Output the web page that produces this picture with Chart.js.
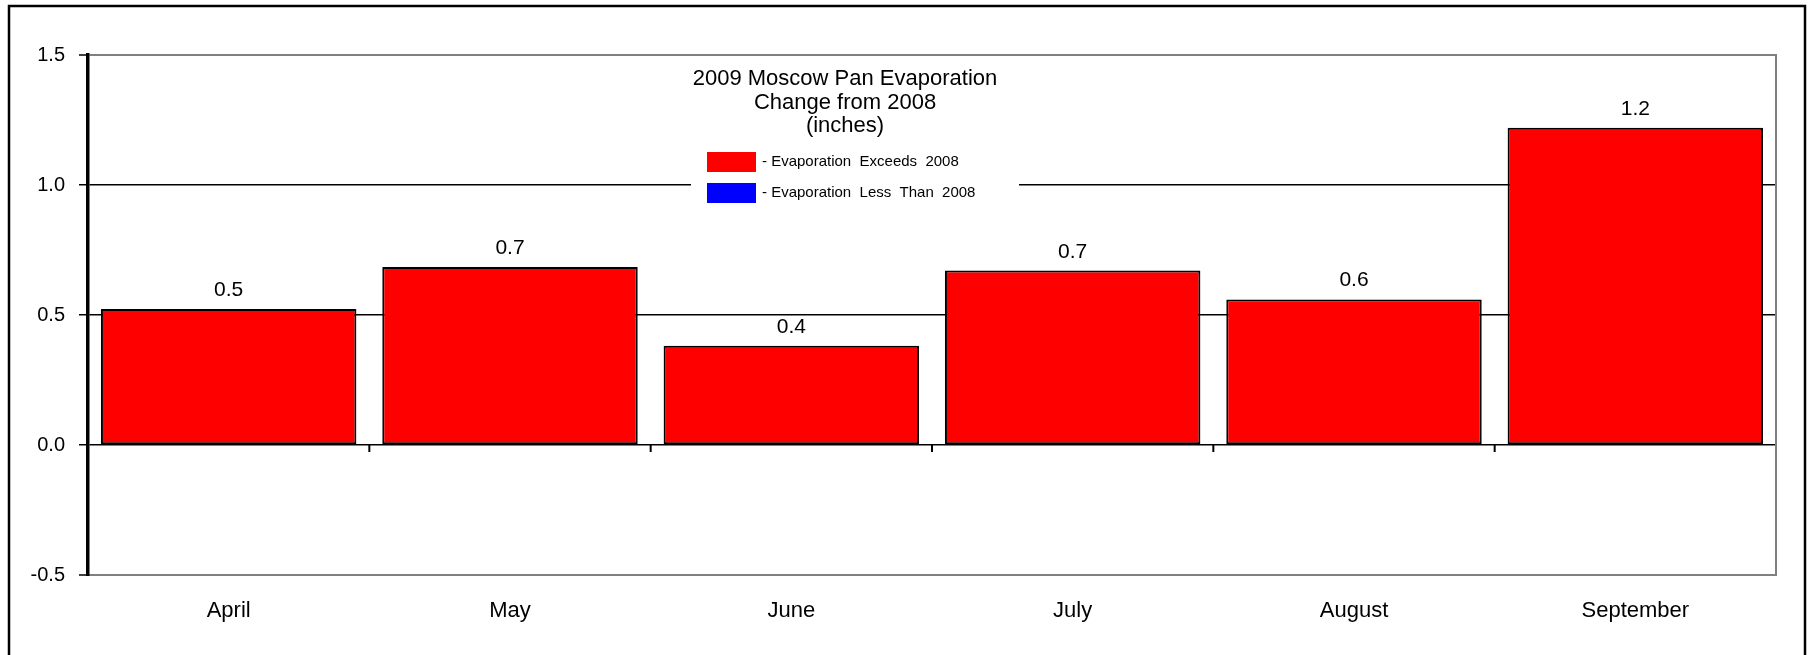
<!DOCTYPE html>
<html>
<head>
<meta charset="utf-8">
<title>2009 Moscow Pan Evaporation</title>
<script src="https://cdn.jsdelivr.net/npm/chart.js@4"></script>
<style>
    body { margin: 0; background: #fff; }
    #evapChart { display: block; }
</style>
</head>
<body>
<canvas id="evapChart" width="1813" height="655"></canvas>
<script>
// Data
var months = ['April', 'May', 'June', 'July', 'August', 'September'];
var change = [0.523, 0.685, 0.382, 0.671, 0.56, 1.22];
var yTicks = [-0.5, 0.0, 0.5, 1.0, 1.5];
var titleLines = ['2009 Moscow Pan Evaporation', 'Change from 2008', '(inches)'];
var legendLabels = ['- Evaporation  Exceeds  2008', '- Evaporation  Less  Than  2008'];
var legendColors = ['#ff0000', '#0000ff'];

var FONT = '"Liberation Sans", Arial, sans-serif';
var GRAY = '#808080';

// red when evaporation went up, blue when it went down
var barColors = change.map(function (v) { return v >= 0 ? legendColors[0] : legendColors[1]; });

// Frame, zero line ticks, value labels, title and legend
var decor = {
    id: 'decor',
    afterDraw: function (chart) {
        var c = chart.ctx;
        var area = chart.chartArea;
        var xs = chart.scales.x;
        var ys = chart.scales.y;
        var y0 = ys.getPixelForValue(0);
        c.save();

        // right border of the plot
        c.strokeStyle = GRAY;
        c.lineWidth = 2;
        c.beginPath();
        c.moveTo(area.right, area.top - 1);
        c.lineTo(area.right, area.bottom + 1);
        c.stroke();

        // category tick marks on the zero line
        c.strokeStyle = '#000';
        c.lineWidth = 2;
        for (var i = 0; i < months.length - 1; i++) {
            var xm = (xs.getPixelForValue(i) + xs.getPixelForValue(i + 1)) / 2;
            c.beginPath();
            c.moveTo(xm, y0);
            c.lineTo(xm, y0 + 7);
            c.stroke();
        }

        // value labels above bars
        c.fillStyle = '#000';
        c.font = '21px ' + FONT;
        c.textAlign = 'center';
        c.textBaseline = 'alphabetic';
        var meta = chart.getDatasetMeta(0);
        meta.data.forEach(function (bar, j) {
            var v = change[j];
            var yy = v >= 0 ? bar.y - 13 : bar.y + 28;
            c.fillText(v.toFixed(1), bar.x, yy);
        });

        // title and legend sit in a white box over the gridline
        c.fillStyle = '#fff';
        c.fillRect(691, 62, 328, 148);

        c.fillStyle = '#000';
        c.font = '22px ' + FONT;
        c.textAlign = 'center';
        var tx = 845;
        titleLines.forEach(function (t, k) {
            c.fillText(t, tx, 85 + k * 23.5);
        });

        c.font = '15px ' + FONT;
        c.textAlign = 'left';
        legendLabels.forEach(function (t, k) {
            var top = 152 + k * 31;
            c.fillStyle = legendColors[k];
            c.fillRect(707, top, 49, 20);
            c.fillStyle = '#000';
            c.fillText(t, 762, top + 14);
        });

        // outer frame
        c.strokeStyle = '#000';
        c.lineWidth = 2.5;
        c.strokeRect(9, 6, 1796, 800);
        c.restore();
    }
};

var ctx = document.getElementById('evapChart');
var evapChart = new Chart(ctx, {
    type: 'bar',
    data: {
        labels: months,
        datasets: [{
            label: 'Change from 2008',
            data: change,
            backgroundColor: barColors,
            borderColor: '#000',
            borderWidth: 2,
            borderSkipped: false,
            categoryPercentage: 0.908,
            barPercentage: 1
        }]
    },
    options: {
        responsive: false,
        animation: false,
        devicePixelRatio: 1,
        layout: { padding: { left: 0, top: 55, right: 37, bottom: 0 } },
        plugins: {
            legend: { display: false },
            tooltip: { enabled: false }
        },
        scales: {
            x: {
                grid: { display: false, drawTicks: false },
                border: { color: GRAY, width: 2 },
                ticks: {
                    color: '#000',
                    font: { family: FONT, size: 22 },
                    padding: 23,
                    maxRotation: 0,
                    autoSkip: false
                },
                afterFit: function (s) { s.height = 80; }
            },
            y: {
                min: -0.5,
                max: 1.5,
                afterBuildTicks: function (s) {
                    s.ticks = yTicks.map(function (v) { return { value: v }; });
                },
                grid: {
                    color: function (c) {
                        var v = c.tick ? c.tick.value : 0;
                        return (v === 1.5 || v === -0.5) ? GRAY : '#000';
                    },
                    lineWidth: function (c) {
                        var v = c.tick ? c.tick.value : 0;
                        return (v === 1.5 || v === -0.5) ? 2 : 1.5;
                    },
                    tickColor: '#000',
                    tickLength: 9,
                    tickWidth: 1.5
                },
                border: { color: '#000', width: 3.5 },
                ticks: {
                    color: '#000',
                    font: { family: FONT, size: 20 },
                    padding: 14,
                    callback: function (v) { return Number(v).toFixed(1); }
                },
                afterFit: function (s) { s.width = 88; }
            }
        }
    },
    plugins: [decor]
});
</script>
</body>
</html>
